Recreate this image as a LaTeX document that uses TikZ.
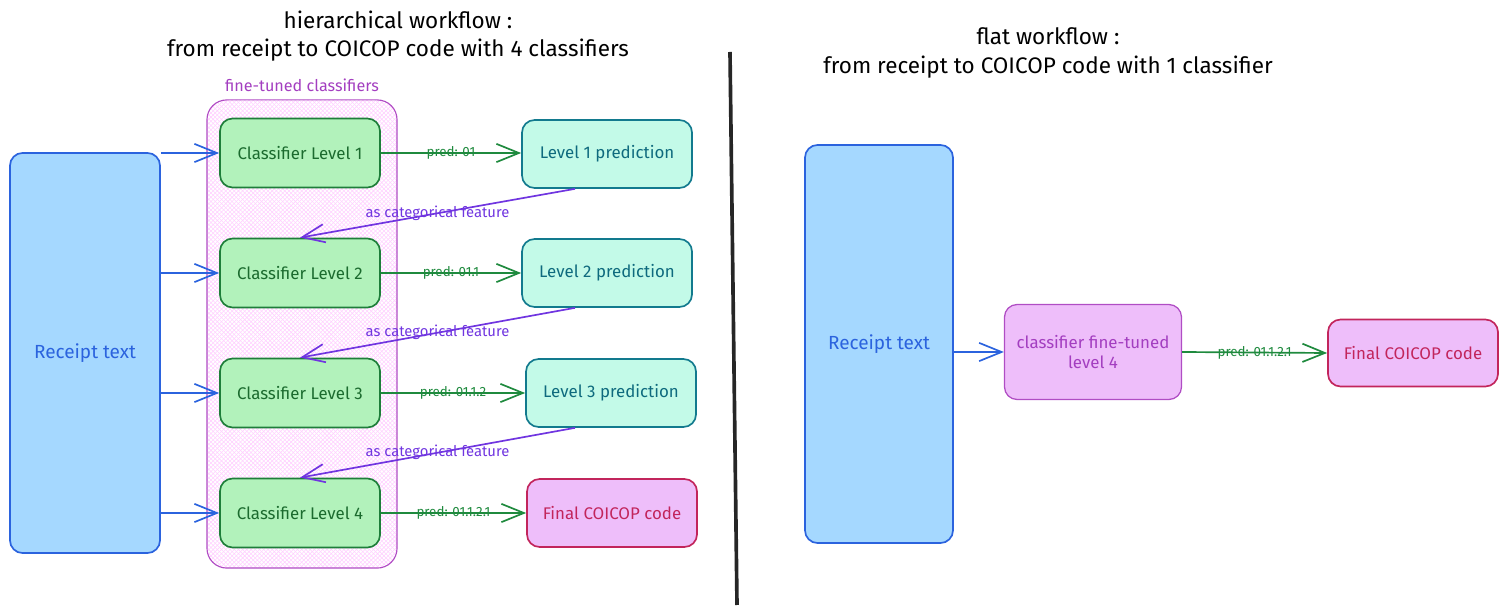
\documentclass[tikz,border=0pt]{standalone}
\usepackage{fontspec}
\setmainfont{Fira Sans}
\usetikzlibrary{arrows.meta,patterns}

\definecolor{rcptfill}{HTML}{A5D8FF}
\definecolor{rcptline}{HTML}{2B63DE}
\definecolor{clsfill}{HTML}{B2F2BB}
\definecolor{clsline}{HTML}{1E7E3A}
\definecolor{clstext}{HTML}{1B6B2E}
\definecolor{predfill}{HTML}{C3FAE8}
\definecolor{predline}{HTML}{127A8E}
\definecolor{predtext}{HTML}{0E6A7E}
\definecolor{finfill}{HTML}{EEBEFA}
\definecolor{finline}{HTML}{C2255C}
\definecolor{grpline}{HTML}{B04DC4}
\definecolor{grptext}{HTML}{A33EC0}
\definecolor{featline}{HTML}{7035E0}
\definecolor{predarrow}{HTML}{1F8A3E}

\begin{document}
\begin{tikzpicture}[x=0.025cm, y=-0.025cm,
    box/.style={draw, rounded corners=9pt, line width=1.2pt, align=center,
        font=\fontsize{12}{14.5}\selectfont, inner sep=2pt},
    rcptbox/.style={box, fill=rcptfill, draw=rcptline, text=rcptline,
        font=\fontsize{13.5}{16}\selectfont},
    clsbox/.style={box, fill=clsfill, draw=clsline, text=clstext,
        minimum width=4cm, minimum height=1.725cm},
    predbox/.style={box, fill=predfill, draw=predline, text=predtext,
        minimum width=4.25cm, minimum height=1.7cm},
    finbox/.style={box, fill=finfill, draw=finline, text=finline,
        minimum width=4.25cm, minimum height=1.7cm},
    inarrow/.style={draw=rcptline, line width=1.2pt,
        -{Straight Barb[length=16pt, width=13pt, line width=1.2pt]}},
    predarr/.style={draw=predarrow, line width=1.2pt,
        -{Straight Barb[length=16pt, width=13pt, line width=1.2pt]}},
    featarr/.style={draw=featline, line width=1.2pt,
        -{Straight Barb[length=16pt, width=13pt, line width=1.2pt]}},
    predlbl/.style={text=predarrow, font=\fontsize{9.5}{11}\selectfont, inner sep=0pt},
    featlbl/.style={text=featline, font=\fontsize{10.5}{12}\selectfont, inner sep=0pt},
    title/.style={align=center, font=\fontsize{16}{20}\selectfont}]

\useasboundingbox (0,0) rectangle (1508,615);

% Titles
\node[title] (lefttitle) at (398,36) {hierarchical workflow :\\from receipt to COICOP code with 4 classifiers};
\node[title] (righttitle) at (1048,53) {flat workflow :\\from receipt to COICOP code with 1 classifier};

% Divider
\coordinate (divtop) at (730,52);
\coordinate (divbot) at (737,605);
\draw[line width=2.6pt, black!85] (divtop) -- (divbot);

% Group of classifiers
\node[draw=grpline, line width=0.8pt, rounded corners=14pt, pattern=crosshatch,
    pattern color=magenta!18, minimum width=4.75cm, minimum height=11.7cm] (group) at (302,334) {};
\node[text=grptext, font=\fontsize{11.5}{13}\selectfont, above=2pt] (grouplbl) at (group.north) {fine-tuned classifiers};

% Nodes
\node[rcptbox, minimum width=3.75cm, minimum height=10cm] (rcpt) at (85,353) {Receipt text};
\node[clsbox] (cl1) at (300,153) {Classifier Level 1};
\node[clsbox] (cl2) at (300,273) {Classifier Level 2};
\node[clsbox] (cl3) at (300,393) {Classifier Level 3};
\node[clsbox] (cl4) at (300,513) {Classifier Level 4};
\node[predbox] (pred1) at (607,154) {Level 1 prediction};
\node[predbox] (pred2) at (607,273) {Level 2 prediction};
\node[predbox] (pred3) at (611,393) {Level 3 prediction};
\node[finbox] (final) at (612,513) {Final COICOP code};

\node[rcptbox, minimum width=3.7cm, minimum height=9.95cm] (flatrcpt) at (879,344) {Receipt text};
\node[box, fill=finfill, draw=grpline, text=grptext, line width=0.9pt,
    minimum width=4.425cm, minimum height=2.375cm] (flatcl) at (1093,352) {classifier fine-tuned\\level 4};
\node[finbox, minimum height=1.675cm] (flatfinal) at (1413,353) {Final COICOP code};

% Edges
\draw[inarrow] (rcpt.east |- cl1) -- (cl1.west);
\draw[inarrow] (rcpt.east |- cl2) -- (cl2.west);
\draw[inarrow] (rcpt.east |- cl3) -- (cl3.west);
\draw[inarrow] (rcpt.east |- cl4) -- (cl4.west);

\draw[predarr] (cl1.east) -- node[predlbl] {pred: 01} (pred1.west |- cl1);
\draw[predarr] (cl2.east) -- node[predlbl] {pred: 01.1} (pred2.west);
\draw[predarr] (cl3.east) -- node[predlbl] {pred: 01.1.2} (pred3.west);
\draw[predarr] (cl4.east) -- node[predlbl] {pred: 01.1.2.1} (final.west);

\draw[featarr] ([xshift=-0.8cm]pred1.south) -- node[featlbl] {as categorical feature} (cl2.north);
\draw[featarr] ([xshift=-0.8cm]pred2.south) -- node[featlbl] {as categorical feature} (cl3.north);
\draw[featarr] ([xshift=-0.9cm]pred3.south) -- node[featlbl] {as categorical feature} (cl4.north);

\draw[inarrow] (flatrcpt.east |- flatcl) -- (flatcl.west);
\draw[predarr] (flatcl.east) -- node[predlbl] {pred: 01.1.2.1} (flatfinal.west);
\end{tikzpicture}
\end{document}
